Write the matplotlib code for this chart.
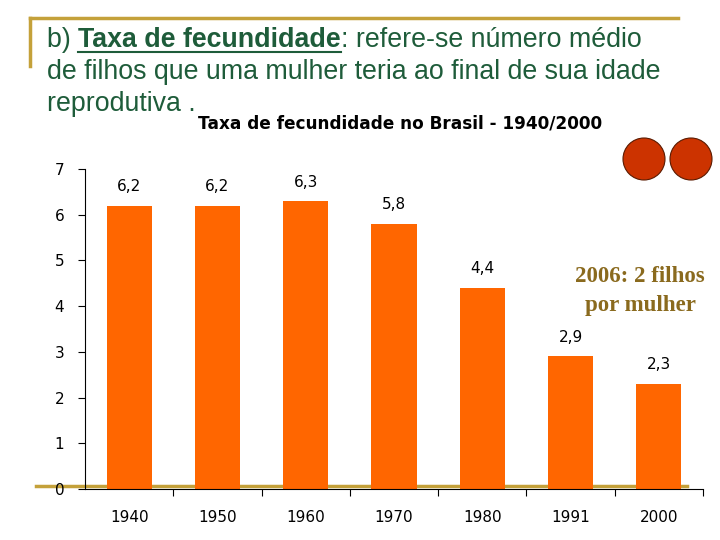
import matplotlib.pyplot as plt
from matplotlib.lines import Line2D
from matplotlib.patches import Ellipse

# Data
anos = ['1940', '1950', '1960', '1970', '1980', '1991', '2000']
taxas = [6.2, 6.2, 6.3, 5.8, 4.4, 2.9, 2.3]
rotulos = ['6,2', '6,2', '6,3', '5,8', '4,4', '2,9', '2,3']
y_ticks = [0, 1, 2, 3, 4, 5, 6, 7]

W, H = 720, 540
fig = plt.figure(figsize=(7.2, 5.4), dpi=100)

def fx(px):
    return px / W

def fy(py):
    return 1 - py / H

gold = '#C4A13A'
green = '#1E5C3A'

# slide decoration lines
fig.add_artist(Line2D([fx(30), fx(678)], [fy(18), fy(18)], color=gold, lw=2.5, zorder=-1))
fig.add_artist(Line2D([fx(30), fx(30)], [fy(18), fy(66)], color=gold, lw=2.5, zorder=-1))
fig.add_artist(Line2D([fx(36), fx(687)], [fy(486), fy(486)], color=gold, lw=2.5, zorder=-1))

# slide text
fs = 19.3
t0 = fig.text(fx(47), fy(40), 'b) ', fontsize=fs, color=green, family='Liberation Sans', va='center')
fig.canvas.draw()
r = fig.canvas.get_renderer()
bb = t0.get_window_extent(r)
tb = fig.text(bb.x1 / W, fy(40), 'Taxa de fecundidade', fontsize=fs, color=green,
              family='Liberation Sans', weight='bold', va='center')
bb2 = tb.get_window_extent(r)
fig.add_artist(Line2D([bb2.x0 / W, bb2.x1 / W], [fy(52), fy(52)], color=green, lw=1.5))
fig.text(bb2.x1 / W, fy(40), ': refere-se número médio', fontsize=fs, color=green,
         family='Liberation Sans', va='center')
fig.text(fx(47), fy(72), 'de filhos que uma mulher teria ao final de sua idade', fontsize=fs,
         color=green, family='Liberation Sans', va='center')
fig.text(fx(47), fy(104), 'reprodutiva .', fontsize=fs, color=green, family='Liberation Sans', va='center')

# chart title
fig.text(fx(400), fy(123), 'Taxa de fecundidade no Brasil - 1940/2000', fontsize=12.2,
         weight='bold', family='DejaVu Sans', ha='center', va='center')

# circles
for cx in [644, 691]:
    fig.add_artist(Ellipse((fx(cx), fy(159)), width=42 / W, height=42 / H,
                           facecolor='#CC3300', edgecolor='#5a1a00', lw=0.8))

# annotation
fig.text(fx(640), fy(276), '2006: 2 filhos', fontsize=16.5, color='#8A6A1E', weight='bold',
         family='Liberation Serif', ha='center', va='center')
fig.text(fx(640), fy(305), 'por mulher', fontsize=16.5, color='#8A6A1E', weight='bold',
         family='Liberation Serif', ha='center', va='center')

# bar chart
ax = fig.add_axes([fx(85), fy(489), fx(703) - fx(85), fy(169) - fy(489)])
ax.patch.set_visible(False)
x = range(len(anos))
ax.bar(x, taxas, width=0.51, color='#FF6600', zorder=2)
for xi, v, lab in zip(x, taxas, rotulos):
    ax.text(xi, v + 0.25, lab, ha='center', va='bottom', fontsize=11, family='DejaVu Sans')

ax.set_xlim(-0.5, len(anos) - 0.5)
ax.set_ylim(0, 7)
ax.set_yticks(y_ticks)
ax.set_yticklabels([str(v) for v in y_ticks], fontsize=11)
ax.set_xticks([i + 0.5 for i in range(len(anos))])
ax.set_xticklabels([])
ax.set_xticks(list(x), minor=True)
ax.set_xticklabels(anos, minor=True, fontsize=11)
ax.tick_params(axis='x', which='minor', length=0, pad=15)
ax.tick_params(axis='x', which='major', length=5, direction='out')
ax.tick_params(axis='y', length=5, pad=10)
ax.spines['top'].set_visible(False)
ax.spines['right'].set_visible(False)

fig.savefig('out.png', dpi=100)
